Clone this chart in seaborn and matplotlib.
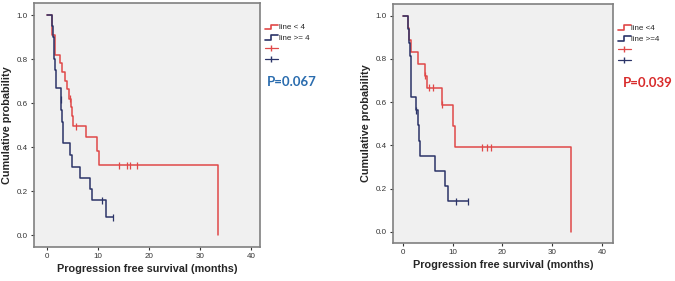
import numpy as np
import pandas as pd
import seaborn as sns
import matplotlib
matplotlib.use("Agg")
import matplotlib.pyplot as plt
from matplotlib.lines import Line2D
from matplotlib.legend_handler import HandlerBase

# ---------------- data ----------------
# Left panel
left_red_t = [0, 1.1, 1.6, 2.6, 2.9, 3.6, 3.9, 4.4, 4.7, 4.9, 5.2, 7.6, 9.9, 10.25, 33.6]
left_red_s = [1.0, 0.91, 0.818, 0.78, 0.74, 0.70, 0.665, 0.62, 0.58, 0.54, 0.495, 0.444, 0.38, 0.318, 0.0]
left_red_cens_t = [4.5, 5.75, 14.2, 15.7, 16.3, 17.6]
left_red_cens_s = [0.62, 0.495, 0.318, 0.318, 0.318, 0.318]

left_blue_t = [0, 1.1, 1.25, 1.4, 1.5, 1.6, 1.75, 1.9, 2.7, 2.85, 2.95, 3.1, 3.26, 4.57, 5.0, 6.5, 8.5, 8.95, 11.6, 12.9]
left_blue_s = [1.0, 0.95, 0.90, 0.85, 0.80, 0.75, 0.71, 0.667, 0.618, 0.567, 0.515, 0.464, 0.417, 0.364, 0.31, 0.258, 0.208, 0.159, 0.08, 0.08]
left_blue_cens_t = [2.75, 10.8, 12.9]
left_blue_cens_s = [0.618, 0.159, 0.08]

# Right panel
right_red_t = [0, 1.1, 1.3, 1.7, 3.0, 4.35, 4.8, 7.8, 10.05, 10.4, 33.8]
right_red_s = [1.0, 0.944, 0.889, 0.833, 0.778, 0.722, 0.667, 0.588, 0.49, 0.392, 0.0]
right_red_cens_t = [4.5, 5.35, 6.0, 7.9, 16.0, 16.9, 17.75]
right_red_cens_s = [0.722, 0.667, 0.667, 0.588, 0.392, 0.392, 0.392]

right_blue_t = [0, 1.1, 1.3, 1.5, 1.6, 1.65, 1.7, 2.6, 3.1, 3.3, 3.45, 6.5, 8.4, 9.0, 13.0]
right_blue_s = [1.0, 0.9375, 0.875, 0.8125, 0.75, 0.6875, 0.625, 0.5625, 0.492, 0.422, 0.352, 0.281, 0.211, 0.141, 0.141]
right_blue_cens_t = [2.55, 10.7, 13.0]
right_blue_cens_s = [0.5625, 0.141, 0.141]

left_labels = ["line < 4", "line >= 4"]
right_labels = ["line <4", "line >=4"]
p_texts = ["P=0.067", "P=0.039"]
x_ticks = [0, 10, 20, 30, 40]
y_ticks = [0.0, 0.2, 0.4, 0.6, 0.8, 1.0]
xlabel = "Progression free survival (months)"
ylabel = "Cumulative probability"

RED = "#E04848"
BLUE = "#2B3468"
P_COLORS = ["#2A6CAE", "#D82B2B"]

sns.set_theme(style="ticks")
plt.rcParams["font.family"] = ["Liberation Sans", "DejaVu Sans"]

fig = plt.figure(figsize=(6.75, 2.81), dpi=100)
ax1 = fig.add_axes([0.0504, 0.121, 0.335, 0.868])
ax2 = fig.add_axes([0.582, 0.135, 0.326, 0.851])


class StepHandler(HandlerBase):
    def create_artists(self, legend, orig_handle, xdescent, ydescent,
                       width, height, fontsize, trans):
        x0 = -xdescent
        y0 = -ydescent
        xs = [x0, x0 + 0.45 * width, x0 + 0.45 * width, x0 + width]
        ys = [y0 + 0.05 * height, y0 + 0.05 * height, y0 + 0.85 * height, y0 + 0.85 * height]
        ln = Line2D(xs, ys, color=orig_handle.get_color(), lw=1.2)
        ln.set_transform(trans)
        return [ln]


def panel(ax, rt, rs, rct, rcs, bt, bs, bct, bcs, labels, ptext, pcolor, xlim, ylim, ppos):
    curves = pd.DataFrame({
        "time": list(rt) + list(bt),
        "surv": list(rs) + list(bs),
        "group": [labels[0]] * len(rt) + [labels[1]] * len(bt),
    })
    cens = pd.DataFrame({
        "time": list(rct) + list(bct),
        "surv": list(rcs) + list(bcs),
        "group": [labels[0]] * len(rct) + [labels[1]] * len(bct),
    })
    pal = {labels[0]: RED, labels[1]: BLUE}
    sns.lineplot(data=curves, x="time", y="surv", hue="group", palette=pal,
                 estimator=None, sort=False, drawstyle="steps-post",
                 lw=1.1, legend=False, ax=ax)
    sns.scatterplot(data=cens, x="time", y="surv", hue="group", palette=pal,
                    marker="|", s=26, linewidth=0.9, legend=False, ax=ax, zorder=3)
    ax.set_facecolor("#F0F0F0")
    ax.set_xlim(*xlim)
    ax.set_ylim(*ylim)
    ax.set_xticks(x_ticks)
    ax.set_yticks(y_ticks)
    ax.set_xticklabels([str(v) for v in x_ticks], fontsize=5.8)
    ax.set_yticklabels([f"{v:.1f}" for v in y_ticks], fontsize=5.8)
    ax.tick_params(axis="both", direction="out", length=2.5, width=0.8, pad=2, colors="#333333")
    ax.set_xlabel(xlabel, fontsize=7.8, fontweight="bold", labelpad=3)
    ax.set_ylabel(ylabel, fontsize=7.8, fontweight="bold", labelpad=3)
    for sp in ax.spines.values():
        sp.set_visible(True)
        sp.set_color("#808080")
        sp.set_linewidth(1.2)
    handles = [Line2D([], [], color=RED), Line2D([], [], color=BLUE),
               Line2D([], [], color=RED, marker="|", markersize=5, lw=0.9),
               Line2D([], [], color=BLUE, marker="|", markersize=5, lw=0.9)]
    ax.legend(handles, [labels[0], labels[1], "", ""],
              handler_map={handles[0]: StepHandler(), handles[1]: StepHandler()},
              loc="upper left", bbox_to_anchor=(1.0, 0.935), frameon=False,
              fontsize=5.8, handlelength=1.6, handletextpad=0.1,
              labelspacing=0.4, borderaxespad=0.2, numpoints=1)
    ax.text(ppos[0], ppos[1], ptext, transform=ax.transAxes, color=pcolor,
            fontsize=9.5, fontweight="bold", family=["Lato", "DejaVu Sans"],
            ha="left", va="center", clip_on=False)


panel(ax1, left_red_t, left_red_s, left_red_cens_t, left_red_cens_s,
      left_blue_t, left_blue_s, left_blue_cens_t, left_blue_cens_s,
      left_labels, p_texts[0], P_COLORS[0], (-2.49, 41.8), (-0.0545, 1.0545), (1.03, 0.676))
panel(ax2, right_red_t, right_red_s, right_red_cens_t, right_red_cens_s,
      right_blue_t, right_blue_s, right_blue_cens_t, right_blue_cens_s,
      right_labels, p_texts[1], P_COLORS[1], (-2.01, 42.2), (-0.052, 1.054), (1.045, 0.67))

fig.savefig("out.png", dpi=100)
